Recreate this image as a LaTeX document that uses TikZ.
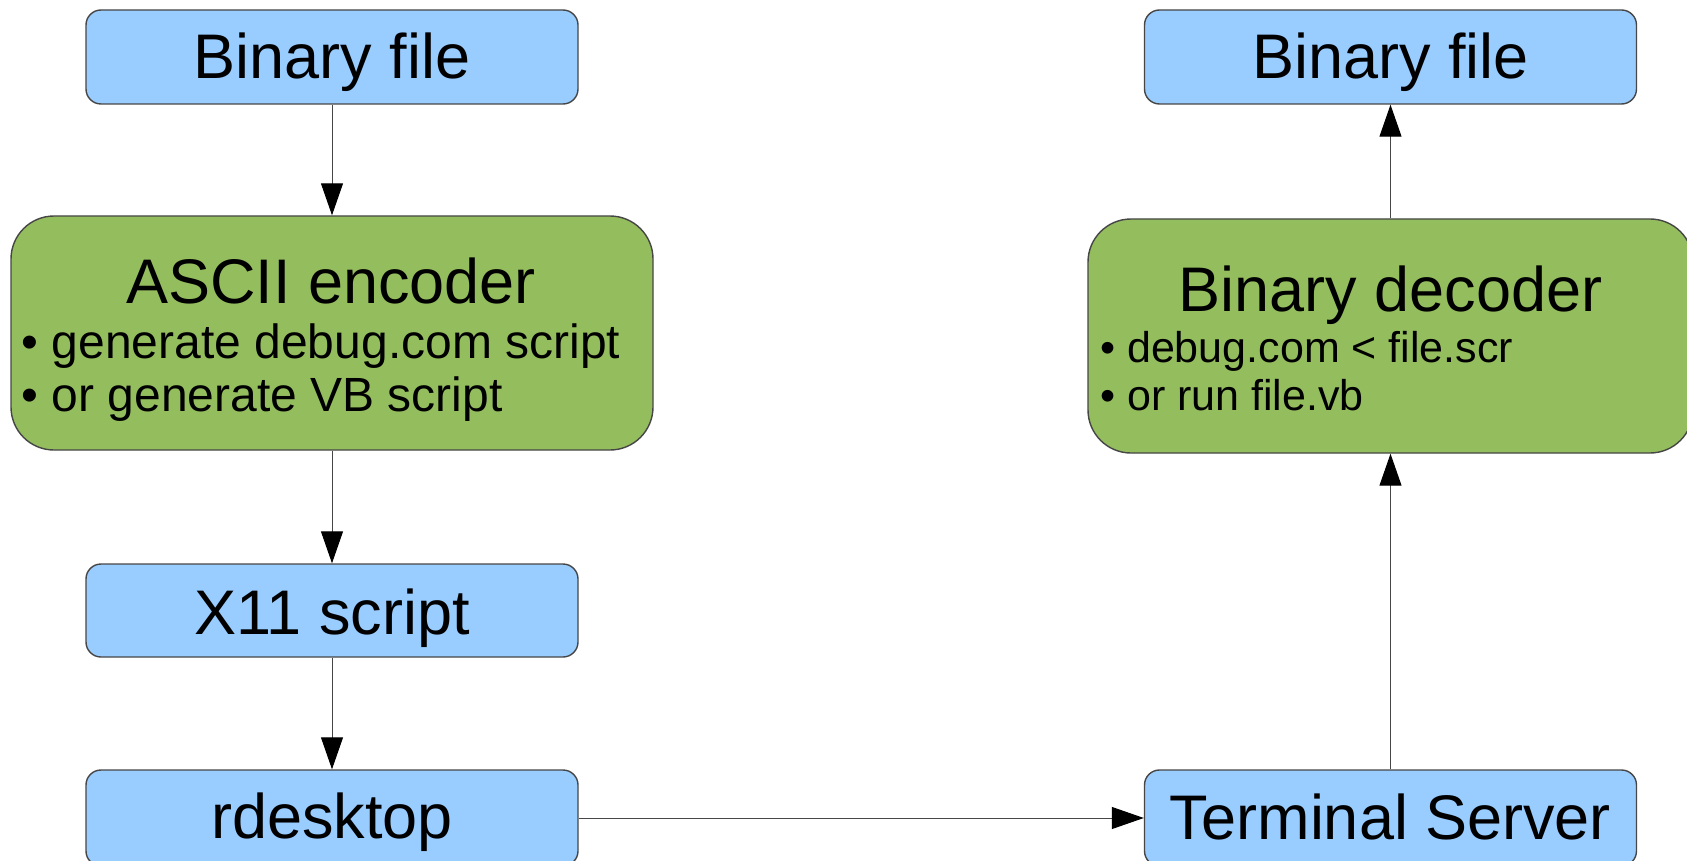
\documentclass[tikz,border=0pt]{standalone}
\usepackage{fontspec}
\setmainfont{Liberation Sans}
\usetikzlibrary{arrows.meta}
\definecolor{boxblue}{RGB}{153,204,255}
\definecolor{boxgreen}{RGB}{148,189,94}
\definecolor{edgegray}{RGB}{70,70,70}
\begin{document}
\begin{tikzpicture}[x=1pt,y=-1pt,
  bluebox/.style={draw=edgegray,line width=1.4pt,fill=boxblue,rounded corners=15pt,inner sep=0pt,minimum width=492pt},
  greenbox/.style={draw=edgegray,line width=1.4pt,fill=boxgreen,rounded corners=43pt,inner sep=0pt,minimum height=234pt},
  flow/.style={draw=edgegray,line width=1pt,-{Triangle[length=32pt,width=22pt,color=black]}},
  title/.style={font=\fontsize{63}{70}\selectfont,anchor=base,inner sep=0pt},
  lbullet/.style={font=\fontsize{48}{53}\selectfont,anchor=base west,inner sep=0pt},
  rbullet/.style={font=\fontsize{43}{48}\selectfont,anchor=base west,inner sep=0pt}]
\useasboundingbox (0,0) rectangle (1687,861);
\clip (0,0) rectangle (1687,861);
% boxes
\node[bluebox,minimum height=94pt] (bin1) at (332,57) {};
\node[greenbox,minimum width=642pt] (enc) at (332,333) {};
\node[bluebox,minimum height=93pt] (x11) at (332,610.5) {};
\node[bluebox,minimum height=96pt] (rd) at (332,818) {};
\node[bluebox,minimum height=94pt] (bin2) at (1390.5,57) {};
\node[greenbox,minimum width=605pt] (dec) at (1390.5,336) {};
\node[bluebox,minimum height=96pt] (term) at (1390.5,818) {};
% texts
\node[title] (t1) at (332,79) {Binary file};
\node[title] (t2) at (331,303) {ASCII encoder};
\node[lbullet] (t3) at (21.5,358) {• generate debug.com script};
\node[lbullet] (t4) at (21.5,411) {• or generate VB script};
\node[title] (t5) at (332,634) {X11 script};
\node[title] (t6) at (332,838) {rdesktop};
\node[title] (t7) at (1390.5,79) {Binary file};
\node[title] (t8) at (1390.5,311) {Binary decoder};
\node[rbullet] (t9) at (1100,362) {• debug.com < file.scr};
\node[rbullet] (t10) at (1100,410) {• or run file.vb};
\node[title] (t11) at (1390.5,839) {Terminal Server};
% connectors
\draw[flow] (bin1) -- (enc);
\draw[flow] (enc) -- (x11);
\draw[flow] (x11) -- (rd);
\draw[flow] (rd) -- (term);
\draw[flow] (term) -- (dec);
\draw[flow] (dec) -- (bin2);
\end{tikzpicture}
\end{document}
